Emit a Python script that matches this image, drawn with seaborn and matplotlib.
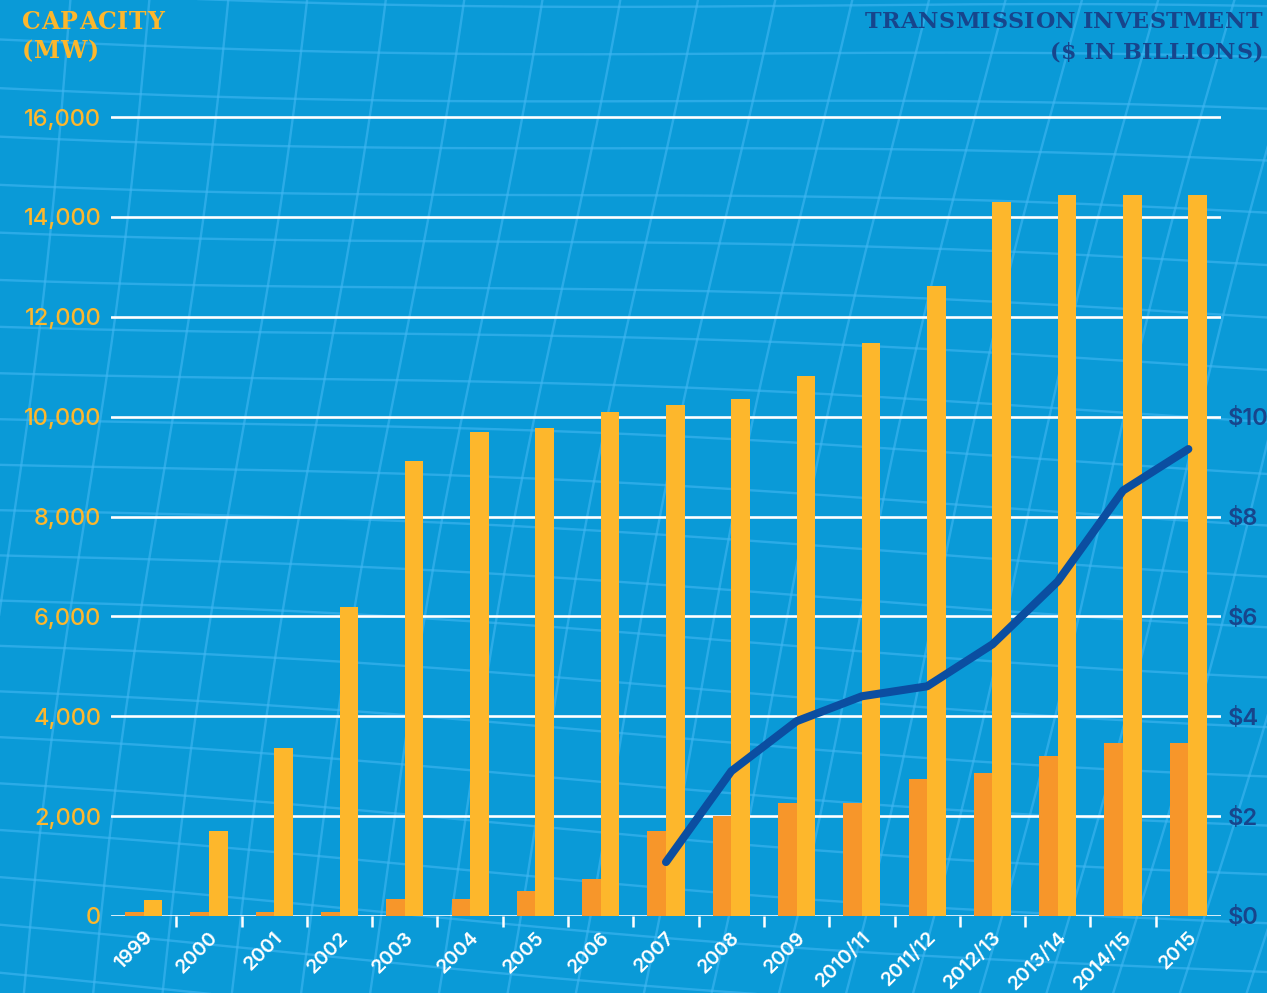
import numpy as np
import pandas as pd
import matplotlib
matplotlib.use("Agg")
import matplotlib.pyplot as plt
import matplotlib.transforms as mtransforms
import seaborn as sns
from matplotlib.textpath import TextToPath
from matplotlib.font_manager import FontProperties

# ---- data -------------------------------------------------------------
periods = ["1999", "2000", "2001", "2002", "2003", "2004", "2005", "2006",
           "2007", "2008", "2009", "2010/11", "2011/12", "2012/13",
           "2013/14", "2014/15", "2015"]
capacity_series_1 = [80, 80, 80, 80, 340, 340, 500, 740, 1700, 2000, 2270,
                     2270, 2750, 2870, 3210, 3470, 3470]
capacity_series_2 = [320, 1700, 3370, 6180, 9120, 9700, 9780, 10100, 10240,
                     10360, 10820, 11470, 12610, 14300, 14440, 14440, 14440]
investment_periods = ["2007", "2008", "2009", "2010/11", "2011/12", "2012/13",
                      "2013/14", "2014/15", "2015"]
investment_billions = [1.08, 2.9, 3.9, 4.4, 4.6, 5.44, 6.7, 8.52, 9.35]
left_ticks = [0, 2000, 4000, 6000, 8000, 10000, 12000, 14000, 16000]
right_ticks = [0, 2, 4, 6, 8, 10]

# ---- style ------------------------------------------------------------
BG = "#0a9ad7"
GRIDTEX = "#42b8f3"
ORANGE = "#f7962a"
YELLOW = "#fdb72c"
NAVY = "#17458c"
LINE = "#0b4ea1"
SANS = ["Inter", "DejaVu Sans"]

sns.set_theme(style="white")
plt.rcParams["font.family"] = SANS

W, H, DPI = 1267, 993, 100
fig = plt.figure(figsize=(W / DPI, H / DPI), dpi=DPI, facecolor=BG)

# background: soft warped mesh
bg = fig.add_axes([0, 0, 1, 1], zorder=0)
bg.set_xlim(0, W)
bg.set_ylim(H, 0)
bg.axis("off")
yy = np.linspace(-50, H + 50, 200)
for x0 in np.arange(-450, W + 300, 68):
    xs = x0 + (H - yy) * (0.12 + 0.18 * x0 / W) + 6 * np.sin(yy / 170 + x0 / 300)
    bg.plot(xs, yy, color=GRIDTEX, lw=1.7, alpha=0.6, solid_capstyle="butt")
xx = np.linspace(-50, W + 50, 200)
for y0 in np.arange(-150, H + 150, 47):
    ys = y0 + 0.06 * xx * (0.3 + y0 / H) + 7 * np.sin(xx / 260 + y0 / 180)
    bg.plot(xx, ys, color=GRIDTEX, lw=1.7, alpha=0.6, solid_capstyle="butt")

# ---- main axes --------------------------------------------------------
px_per_mw = (916 - 117) / 16000.0
ymax = 16000 + 5 / px_per_mw
left_px, right_px, base_px = 111, 1221, 916
ax_h = ymax * px_per_mw
ax = fig.add_axes([left_px / W, 1 - base_px / H, (right_px - left_px) / W, ax_h / H],
                  zorder=2)
ax.set_facecolor("none")

df = pd.DataFrame({
    "period": periods * 2,
    "mw": capacity_series_1 + capacity_series_2,
    "series": ["s1"] * len(periods) + ["s2"] * len(periods),
})
sns.barplot(data=df, x="period", y="mw", hue="series", order=periods,
            palette=[ORANGE, YELLOW], width=0.57, saturation=1,
            legend=False, ax=ax, zorder=3)
for p in ax.patches:
    p.set_edgecolor("none")

ax.set_xlim(-0.5, len(periods) - 0.5)
ax.set_ylim(0, ymax)
ax.set_yticks(left_ticks)
ax.set_yticklabels([f"{v:,}" for v in left_ticks])
ax.tick_params(axis="y", length=0, pad=7, labelsize=17, labelcolor=YELLOW)
for t in ax.get_yticklabels():
    t.set_fontweight("medium")
ax.grid(axis="y", color="white", lw=1.9, zorder=1)
ax.set_axisbelow(True)
for s in ax.spines.values():
    s.set_visible(False)
ax.set_xlabel("")
ax.set_ylabel("")

# x ticks: rotated labels at centres, small marks between periods
ax.set_xticks(range(len(periods)))
ax.set_xticklabels(periods, rotation=45, ha="right", va="center",
                   rotation_mode="anchor")
ax.tick_params(axis="x", which="major", bottom=True, length=0, pad=12,
               labelsize=14, labelcolor="white")
for t in ax.get_xticklabels():
    t.set_fontweight("semibold")
ax.set_xticks(np.arange(0.5, len(periods) - 1, 1.0), minor=True)
ax.tick_params(axis="x", which="minor", bottom=True, length=8, width=1.8,
               color="white", direction="out")
offset = mtransforms.ScaledTranslation(6 / DPI, -2 / DPI, fig.dpi_scale_trans)
for t in ax.get_xticklabels():
    t.set_transform(t.get_transform() + offset)

# ---- investment line on right axis ------------------------------------
ax2 = ax.twinx()
ax2.set_ylim(0, ymax / 1000.0)
inv_x = [periods.index(p) for p in investment_periods]
sns.lineplot(x=inv_x, y=investment_billions, ax=ax2, color=LINE, lw=5.8,
             solid_capstyle="round", solid_joinstyle="round", zorder=5)
ax2.set_yticks(right_ticks)
ax2.set_yticklabels([f"${v}" for v in right_ticks])
ax2.tick_params(axis="y", length=0, pad=5, labelsize=17, labelcolor=NAVY)
for t in ax2.get_yticklabels():
    t.set_fontweight("semibold")
for s in ax2.spines.values():
    s.set_visible(False)
ax2.set_ylabel("")
ax2.grid(False)

# ---- tracked titles ---------------------------------------------------
ttp = TextToPath()


def tracked(text, x, y, size, color, tracking, align="left"):
    fp = FontProperties(family="DejaVu Serif", weight="bold", size=size)
    widths = []
    for c in text:
        w, _, _ = ttp.get_text_width_height_descent(c if c != " " else "-", fp, ismath=False)
        if c == " ":
            w *= 0.75
        widths.append(w * DPI / 72)
    total = sum(widths) + tracking * (len(text) - 1)
    cx = x if align == "left" else x - total
    for c, w in zip(text, widths):
        if c != " ":
            fig.text(cx / W, 1 - y / H, c, fontproperties=fp, color=color,
                     va="baseline", ha="left")
        cx += w + tracking


tracked("CAPACITY", 22, 29, 17, YELLOW, 0.6)
tracked("(MW)", 22, 58, 17, YELLOW, 0.6)
tracked("TRANSMISSION INVESTMENT", 1262, 28, 16, NAVY, 0.4, align="right")
tracked("($ IN BILLIONS)", 1263, 59, 16, NAVY, 0.4, align="right")

fig.savefig("out.png", dpi=DPI, facecolor=BG)
